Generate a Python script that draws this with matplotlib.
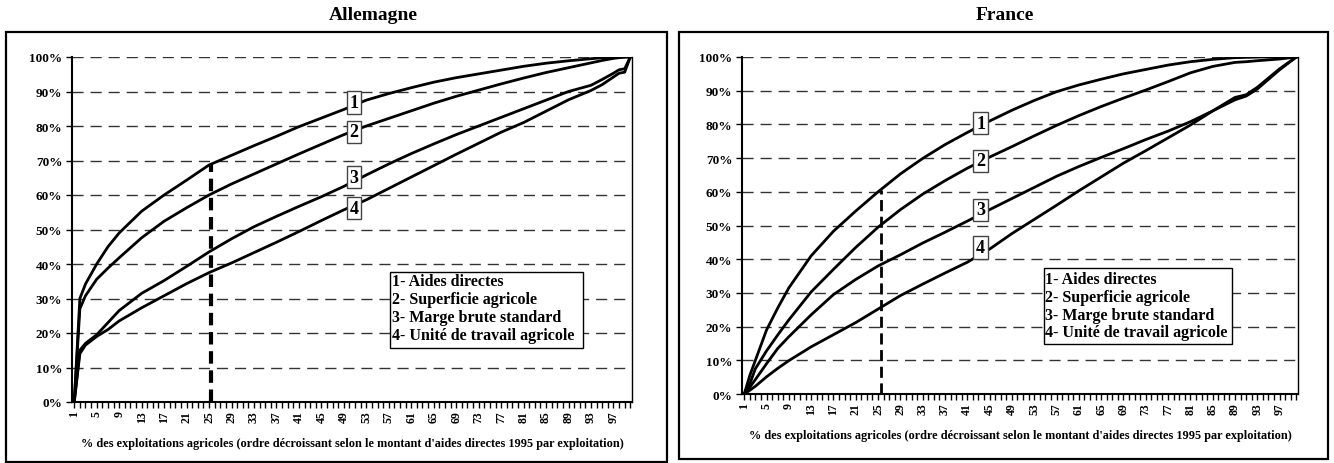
import matplotlib.pyplot as plt
from matplotlib.patches import Rectangle

plt.rcParams['font.family'] = ['Liberation Serif', 'DejaVu Serif']
plt.rcParams['font.weight'] = 'bold'

# % of farms (x) where the curves were read
x_de = [1, 2, 3, 5, 7, 9, 13, 17, 21, 25, 29, 33, 37, 41, 45, 49, 53, 57, 61, 65,
        69, 73, 77, 81, 85, 89, 93, 95, 97, 98, 99, 100]
x_fr = [1, 2, 3, 5, 7, 9, 13, 17, 21, 25, 29, 33, 37, 41, 45, 49, 53, 57, 61, 65,
        69, 73, 77, 81, 85, 89, 91, 93, 97, 100]

# Allemagne - cumulative shares (%)
de_aides = [0, 30, 34.2, 40, 45, 49, 55.3, 60, 64.3, 68.7, 71.5, 74.3, 77, 79.8, 82.3, 84.8,
            87.5, 89.4, 91.1, 92.7, 94, 95.1, 96.2, 97.3, 98.2, 98.9, 99.5, 99.8, 99.9, 100, 100, 100]
de_surface = [0, 27, 30.8, 35.6, 38.8, 41.8, 47.6, 52.4, 56.3, 60, 63.2, 66.1, 69, 71.9, 74.7, 77.5,
              80, 82.2, 84.4, 86.6, 88.6, 90.4, 92.2, 93.9, 95.5, 96.9, 98.3, 99, 99.6, 99.8, 100, 100]
de_mbs = [0, 15, 17, 19.5, 23, 26.5, 31.5, 35.2, 39.3, 43.5, 47.3, 50.8, 53.8, 56.7, 59.5, 62.5,
          65.8, 69, 72, 74.8, 77.5, 80, 82.5, 85, 87.5, 90, 91.8, 93.5, 95.3, 96.3, 96.6, 100]
de_uta = [0, 14, 16.5, 19, 21, 23.5, 27.3, 30.8, 34.3, 37.5, 40.3, 43.3, 46.3, 49.4, 52.6, 55.7,
          58.6, 61.9, 65.2, 68.5, 71.8, 75, 78.2, 81, 84.3, 87.6, 90.3, 92, 94.2, 95.3, 95.6, 100]

# France - cumulative shares (%)
fr_aides = [0, 5.5, 10, 19, 25.5, 31.5, 41, 48.3, 54.3, 60, 65.3, 69.9, 74, 77.6, 81, 84.2,
            87.1, 89.7, 91.7, 93.4, 95, 96.3, 97.6, 98.6, 99.3, 99.8, 99.9, 100, 100, 100]
fr_surface = [0, 3, 7.5, 12.8, 17.5, 22, 30.3, 37, 43.5, 49.5, 54.7, 59.3, 63.3, 67, 70.3, 73.4,
              76.6, 79.7, 82.6, 85.3, 87.8, 90.2, 92.7, 95.3, 97.2, 98.4, 98.6, 98.9, 99.4, 100]
fr_mbs = [0, 2, 4.3, 9, 13.5, 17, 23.5, 29.5, 34, 38, 41.3, 44.8, 48, 51.3, 54.7, 58,
          61.3, 64.6, 67.5, 70.2, 72.8, 75.5, 78, 80.8, 84, 87.3, 88.4, 90.5, 96.2, 100]
fr_uta = [0, 1.1, 2.3, 5.1, 7.6, 9.9, 14, 17.6, 21.2, 25.2, 29.2, 32.6, 35.9, 39.1, 43, 47.6,
          51.8, 56, 60.3, 64.4, 68.5, 72.2, 76, 79.8, 84, 88, 88.8, 91, 96.5, 100]

legend_lines = ['1- Aides directes', '2- Superficie agricole',
                '3- Marge brute standard', "4- Unité de travail agricole"]
xlabel = ("% des exploitations agricoles (ordre décroissant selon le montant "
          "d'aides directes 1995 par exploitation)")

W, H = 1334, 464
fig = plt.figure(figsize=(W / 100, H / 100), dpi=100)


def px_rect(l, t, r, b):
    return [l / W, 1 - b / H, (r - l) / W, (b - t) / H]


def draw_panel(ax_box, frame_box, title, title_x, x, series, label_x, label_y,
               cut_x, cut_lw, leg_box, leg_rows):
    # outer frame of the chart
    l, t, r, b = frame_box
    fig.patches.append(Rectangle((l / W, 1 - b / H), (r - l) / W, (b - t) / H,
                                 transform=fig.transFigure, fill=False,
                                 ec='black', lw=1.6))
    fig.text(title_x / W, 1 - 16 / H, title, ha='center', va='center',
             fontsize=14, fontweight='bold')

    ax = fig.add_axes(px_rect(*ax_box))
    for yv in range(10, 101, 10):
        ax.axhline(yv, color='#333333', lw=1, dashes=(8, 5), zorder=1)

    for ys in series:
        ax.plot(x, ys, color='black', lw=2, zorder=3)

    # dashed marker at 25% of farms, up to the first curve
    top = series[0][x.index(25)] + (series[0][x.index(29)] - series[0][x.index(25)]) * (cut_x - 25) / 4
    ax.plot([cut_x, cut_x], [0, top], color='black', lw=cut_lw,
            dashes=(3, 1.6) if cut_lw > 2 else (4, 2), zorder=2)

    for i in range(4):
        ax.text(label_x, label_y[i], str(i + 1), ha='center', va='center',
                fontsize=13, fontweight='bold', zorder=5,
                bbox=dict(boxstyle='square,pad=0.15', fc='white', ec='#444444', lw=1))

    # legend box
    lx0, ly0, lx1, ly1 = leg_box
    ax.add_patch(Rectangle((lx0, ly0), lx1 - lx0, ly1 - ly0, fc='white',
                           ec='black', lw=1, zorder=4))
    for txt, yy in zip(legend_lines, leg_rows):
        ax.text(lx0 + 0.3, yy, txt, ha='left', va='center',
                fontsize=11.5, fontweight='bold', zorder=5)

    ax.set_xlim(0.6, 100.3)
    ax.set_ylim(0, 100)
    ax.set_xticks(range(1, 101))
    ax.set_xticklabels([str(v) if (v - 1) % 4 == 0 else '' for v in range(1, 101)],
                       rotation=90, fontsize=8.5, fontweight='bold')
    ax.set_yticks(range(0, 101, 10))
    ax.set_yticklabels([f'{v}%' for v in range(0, 101, 10)], fontsize=9.5,
                       fontweight='bold')
    ax.tick_params(axis='x', direction='out', length=4, width=1, pad=2)
    ax.tick_params(axis='y', direction='out', length=4, width=1, pad=3)
    ax.spines['top'].set_visible(False)
    ax.spines['left'].set_linewidth(1.5)
    ax.spines['bottom'].set_linewidth(1.5)
    ax.spines['right'].set_linewidth(1)
    ax.set_xlabel(xlabel, fontsize=8.8, fontweight='bold', labelpad=11)
    return ax


draw_panel((72, 58, 632, 403), (6, 33, 667, 463), 'Allemagne', 373, x_de,
           [de_aides, de_surface, de_mbs, de_uta], 50.8, [86.8, 78.3, 65.2, 56.2],
           25.4, 3, (57.3, 15.6, 91.6, 37.8), [35.1, 29.9, 24.6, 19.4])
draw_panel((742, 58, 1298, 395), (679, 33, 1328, 460), 'France', 1005, x_fr,
           [fr_aides, fr_surface, fr_mbs, fr_uta], 43.4, [80.4, 69.2, 54.6, 43.5],
           25.5, 2, (54.7, 14.8, 88.4, 37.3), [34.1, 28.7, 23.4, 18.3])

fig.savefig('out.png', dpi=100)
